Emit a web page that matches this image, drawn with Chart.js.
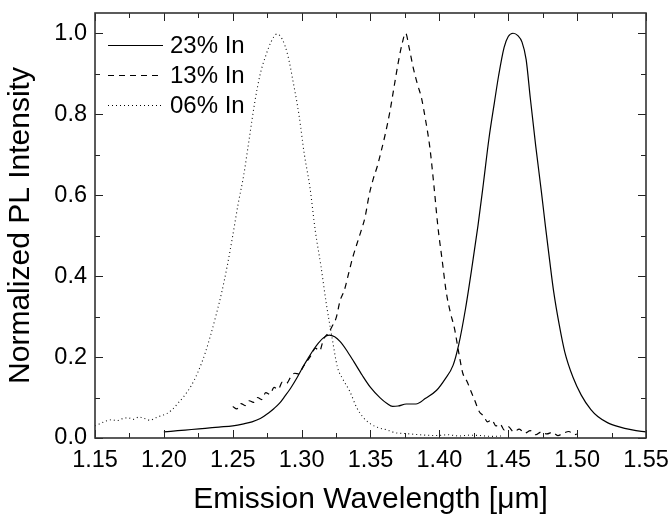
<!DOCTYPE html>
<html>
<head>
<meta charset="utf-8">
<script src="https://cdn.jsdelivr.net/npm/chart.js@4/dist/chart.umd.min.js"></script>
<style>
html,body{margin:0;padding:0;background:#fff;}
#wrap{width:672px;height:518px;}
</style>
</head>
<body>
<div id="wrap"><canvas id="c" width="672" height="518"></canvas></div>
<script>
// ---- data ----
const seriesLabels = ["23% In", "13% In", "06% In"];

const wl23 = [1.200,1.210,1.220,1.230,1.240,1.250,1.258,1.264,1.270,1.276,1.280,1.284,1.288,1.292,1.296,1.300,1.304,1.308,1.312,1.316,1.320,1.324,1.328,1.333,1.338,1.344,1.350,1.357,1.362,1.366,1.370,1.376,1.383,1.390,1.398,1.404,1.410,1.414,1.419,1.424,1.428,1.432,1.436,1.440,1.443,1.447,1.450,1.4535,1.457,1.460,1.463,1.466,1.470,1.474,1.477,1.480,1.483,1.487,1.491,1.497,1.503,1.510,1.515,1.522,1.530,1.540,1.550];
const pl23 = [0.015,0.018,0.021,0.024,0.027,0.030,0.035,0.040,0.048,0.062,0.073,0.086,0.104,0.123,0.145,0.170,0.193,0.215,0.234,0.248,0.254,0.250,0.238,0.215,0.188,0.155,0.125,0.099,0.085,0.078,0.079,0.084,0.084,0.098,0.118,0.145,0.180,0.230,0.320,0.430,0.524,0.630,0.740,0.830,0.895,0.965,0.992,1.000,0.994,0.978,0.935,0.840,0.720,0.610,0.523,0.440,0.361,0.280,0.213,0.150,0.106,0.070,0.053,0.038,0.028,0.020,0.015];

const wl13 = [1.250,1.253,1.256,1.259,1.262,1.265,1.268,1.271,1.274,1.277,1.280,1.283,1.286,1.289,1.292,1.295,1.298,1.301,1.304,1.307,1.310,1.313,1.316,1.319,1.322,1.325,1.328,1.331,1.334,1.337,1.340,1.343,1.346,1.349,1.352,1.355,1.358,1.361,1.364,1.367,1.370,1.373,1.3755,1.378,1.381,1.384,1.387,1.390,1.393,1.396,1.399,1.402,1.405,1.408,1.411,1.414,1.417,1.420,1.423,1.426,1.429,1.432,1.435,1.438,1.441,1.444,1.447,1.450,1.454,1.458,1.462,1.466,1.470,1.474,1.478,1.482,1.486,1.490,1.494,1.498,1.500];
const pl13 = [0.078,0.072,0.085,0.080,0.092,0.088,0.100,0.095,0.112,0.108,0.125,0.120,0.138,0.135,0.150,0.160,0.158,0.175,0.190,0.205,0.222,0.215,0.245,0.258,0.275,0.296,0.340,0.365,0.405,0.445,0.478,0.510,0.545,0.600,0.640,0.672,0.712,0.755,0.805,0.865,0.925,0.975,1.000,0.965,0.915,0.875,0.840,0.785,0.720,0.625,0.520,0.440,0.360,0.310,0.270,0.212,0.160,0.140,0.115,0.090,0.065,0.055,0.040,0.045,0.030,0.035,0.020,0.028,0.015,0.022,0.012,0.018,0.008,0.015,0.010,0.014,0.006,0.012,0.016,0.008,0.010];

const wl06 = [1.150,1.154,1.158,1.162,1.166,1.170,1.174,1.178,1.182,1.186,1.190,1.194,1.198,1.202,1.206,1.210,1.215,1.220,1.225,1.230,1.234,1.238,1.242,1.246,1.250,1.254,1.258,1.262,1.266,1.270,1.274,1.278,1.282,1.286,1.290,1.294,1.298,1.302,1.306,1.310,1.314,1.318,1.322,1.326,1.330,1.335,1.340,1.345,1.350,1.356,1.362,1.368,1.375,1.382,1.390,1.398,1.406,1.414,1.422,1.430,1.438,1.445];
const pl06 = [0.030,0.036,0.042,0.045,0.043,0.048,0.050,0.046,0.052,0.048,0.044,0.050,0.055,0.060,0.070,0.085,0.105,0.130,0.165,0.210,0.255,0.305,0.360,0.425,0.500,0.580,0.650,0.740,0.830,0.900,0.945,0.980,0.998,0.985,0.945,0.877,0.800,0.700,0.620,0.510,0.425,0.330,0.250,0.175,0.145,0.115,0.075,0.050,0.035,0.025,0.020,0.013,0.011,0.009,0.007,0.006,0.008,0.005,0.007,0.006,0.004,0.005];

const xTickLabels = ["1.15","1.20","1.25","1.30","1.35","1.40","1.45","1.50","1.55"];
const yTickLabels = ["0.0","0.2","0.4","0.6","0.8","1.0"];

// ---- build ----
function pts(xs, ys){ return xs.map((x,i)=>({x:x, y:ys[i]})); }
const FONT = "'Liberation Sans', Arial, Helvetica, sans-serif";
const dashes = [[], [6,5], [1,3]];

const frameTicks = {
  id: 'frameTicks',
  afterDraw(chart){
    const ctx = chart.ctx, a = chart.chartArea;
    const xs = chart.scales.x, ys = chart.scales.y;
    ctx.save();
    ctx.strokeStyle = '#222';
    ctx.lineWidth = 1;
    ctx.beginPath();
    for (let k = 0; k <= 16; k++) {
      const v = 1.15 + k * 0.025;
      const px = Math.round(xs.getPixelForValue(v)) + 0.5;
      const len = (k % 2 === 0) ? 8 : 5;
      ctx.moveTo(px, a.bottom); ctx.lineTo(px, a.bottom - len);
      ctx.moveTo(px, a.top); ctx.lineTo(px, a.top + len);
    }
    for (let k = 0; k <= 10; k++) {
      const v = k * 0.1;
      const py = Math.round(ys.getPixelForValue(v)) + 0.5;
      const len = (k % 2 === 0) ? 8 : 5;
      ctx.moveTo(a.left, py); ctx.lineTo(a.left + len, py);
      ctx.moveTo(a.right, py); ctx.lineTo(a.right - len, py);
    }
    ctx.stroke();
    ctx.lineWidth = 1.6;
    ctx.strokeStyle = '#333';
    ctx.strokeRect(a.left, a.top, a.right - a.left, a.bottom - a.top);
    // legend
    ctx.font = "24px " + FONT;
    ctx.fillStyle = '#000';
    ctx.textBaseline = 'middle';
    ctx.textAlign = 'left';
    chart.data.datasets.forEach((ds, i) => {
      const y = a.top + 32 + i * 30;
      ctx.beginPath();
      ctx.lineWidth = 1.2;
      ctx.strokeStyle = '#000';
      ctx.setLineDash(ds.borderDash || []);
      ctx.moveTo(a.left + 13, y + 0.5); ctx.lineTo(a.left + 68, y + 0.5);
      ctx.stroke();
      ctx.setLineDash([]);
      ctx.fillText(ds.label, a.left + 75, y + 1);
    });
    ctx.restore();
  }
};

new Chart(document.getElementById('c'), {
  type: 'line',
  data: {
    datasets: [
      {label: seriesLabels[0], data: pts(wl23, pl23)},
      {label: seriesLabels[1], data: pts(wl13, pl13)},
      {label: seriesLabels[2], data: pts(wl06, pl06)}
    ].map((d, i) => Object.assign(d, {
      borderColor: i === 2 ? '#111' : '#000',
      borderWidth: i === 2 ? 1.1 : 1.2,
      borderDash: dashes[i],
      pointRadius: 0,
      cubicInterpolationMode: 'monotone',
      fill: false
    }))
  },
  options: {
    responsive: false,
    animation: false,
    devicePixelRatio: 1,
    layout: {padding: {left: 0, right: 26, top: 13, bottom: 0}},
    plugins: {legend: {display: false}, tooltip: {enabled: false}},
    scales: {
      x: {
        type: 'linear', min: 1.15, max: 1.55,
        grid: {display: false, drawTicks: false},
        border: {display: false},
        afterBuildTicks(s){ s.ticks = xTickLabels.map((_, i) => ({value: 1.15 + i * 0.05})); },
        afterFit(s){ s.height = 80; s.paddingLeft = 0; s.paddingRight = 0; },
        ticks: {
          padding: 8, color: '#000', maxRotation: 0, autoSkip: false,
          font: {size: 23.5, family: FONT},
          callback(v){ const i = Math.round((v - 1.15) / 0.05); return xTickLabels[i] !== undefined ? xTickLabels[i] : ''; }
        },
        title: {display: true, text: 'Emission Wavelength [\u03BCm]', color: '#000',
                font: {size: 30, family: FONT}, padding: {top: 0, bottom: 0}}
      },
      y: {
        type: 'linear', min: 0, max: 1.05,
        grid: {display: false, drawTicks: false},
        border: {display: false},
        afterBuildTicks(s){ s.ticks = yTickLabels.map((_, i) => ({value: i * 0.2})); },
        afterFit(s){ s.width = 95; s.paddingTop = 0; s.paddingBottom = 0; },
        ticks: {
          padding: 8, color: '#000',
          font: {size: 23.5, family: FONT},
          callback(v){ const i = Math.round(v / 0.2); return yTickLabels[i] !== undefined ? yTickLabels[i] : ''; }
        },
        title: {display: true, text: 'Normalized PL Intensity', color: '#000',
                font: {size: 30, family: FONT}, padding: {top: 3, bottom: 0}}
      }
    }
  },
  plugins: [frameTicks]
});
</script>
</body>
</html>
